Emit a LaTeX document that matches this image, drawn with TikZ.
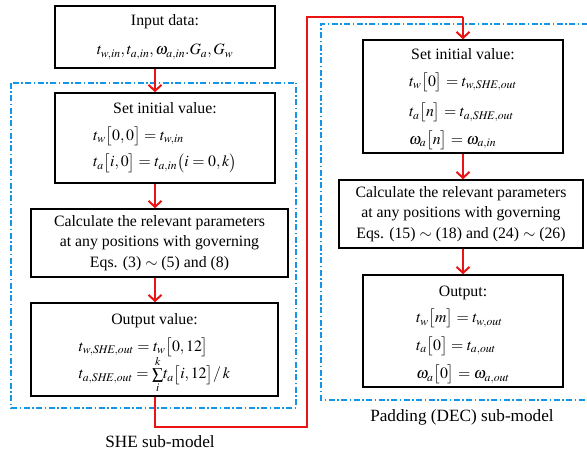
\documentclass[tikz,border=0pt]{standalone}
\usepackage{mathptmx}
\usepackage{fontspec}
\setmainfont{Liberation Serif}
\usetikzlibrary{arrows.meta}

\definecolor{grpblue}{RGB}{20,150,230}
\definecolor{flowred}{RGB}{235,20,20}

\tikzset{
  box/.style={draw=black, line width=1.5pt, inner sep=0pt, align=center},
  arr/.style={draw=flowred, line width=2.2pt,
    -{Straight Barb[length=6pt,width=13pt,line width=2pt]}},
  link/.style={draw=flowred, line width=2.2pt},
  group/.style={draw=grpblue, line width=1.3pt,
    dash pattern=on 6pt off 2.5pt on 1.5pt off 2.5pt},
  lbl/.style={inner sep=0pt, font=\rmfamily\fontsize{17.2}{20.5}\selectfont},
  every node/.style={font=\rmfamily\fontsize{15.8}{20.5}\selectfont}
}

% left-aligned block of formulas whose first row sits on the current line
\newcommand{\mlines}[1]{\begin{tabular}[t]{@{}l@{}}#1\end{tabular}}
% invisible strut that pushes a box's first line down
\newcommand{\topgap}[1]{\rule{0pt}{#1}}

\begin{document}
\begin{tikzpicture}[x=1pt, y=-1pt]
  \useasboundingbox (0,0) rectangle (587,454);
  \clip (0,0) rectangle (587,454);

  % sub-model frames
  \draw[group] (11,83) rectangle (296,408);
  \draw[group] (600,24) -- (321,24) -- (321,400) -- (600,400);

  % SHE sub-model
  \node[box, minimum width=220pt, minimum height=62pt] (input) at (165,37)
    {Input data:\\[9pt]
     $t_{w,in}, t_{a,in}, \omega_{a,in}.G_a, G_w$};
  \node[box, minimum width=220pt, minimum height=90pt] (setL) at (165,138)
    {Set initial value:\\[6pt]
     \mlines{$t_w\bigl[0,0\bigr]=t_{w,in}$\\[6pt]
             $t_a\bigl[i,0\bigr]=t_{a,in}\bigl(i=0,k\bigr)$}};
  \node[box, minimum width=257pt, minimum height=68pt] (calcL) at (159.5,243)
    {Calculate the relevant parameters\\
     at any positions with governing\\
     Eqs. (3) $\sim$ (5) and (8)};
  \node[box, minimum width=247pt, minimum height=93pt] (outL) at (154.5,349.5)
    {\topgap{11pt}Output value:\\[6pt]
     \mlines{$t_{w,\mathit{SHE},out}=t_w\bigl[0,12\bigr]$\\[7pt]
             $t_{a,\mathit{SHE},out}=\smash{\sum\limits_{i}^{k}} t_a\bigl[i,12\bigr]/\,k$}};
  \node[lbl] (sheLabel) at (160,442) {SHE sub-model};

  % Padding (DEC) sub-model
  \node[box, minimum width=200pt, minimum height=113pt] (setR) at (463,96.5)
    {\topgap{17pt}Set initial value:\\[6pt]
     \mlines{$t_w\bigl[0\bigr]=t_{w,\mathit{SHE},out}$\\[10pt]
             $t_a\bigl[n\bigr]=t_{a,\mathit{SHE},out}$\\[7pt]
             $\omega_a\bigl[n\bigr]=\omega_{a,in}$}};
  \node[box, minimum width=244pt, minimum height=68pt] (calcR) at (461,214)
    {Calculate the relevant parameters\\
     at any positions with governing\\
     Eqs. (15) $\sim$ (18) and (24) $\sim$ (26)};
  \node[box, minimum width=200pt, minimum height=112pt] (outR) at (463,331)
    {\topgap{19pt}Output:\\[6pt]
     \mlines{$t_w\bigl[m\bigr]=t_{w,out}$\\[7pt]
             $t_a\bigl[0\bigr]=t_{a,out}$\\[8pt]
             $\omega_a\bigl[0\bigr]=\omega_{a,out}$}};
  \node[lbl] (decLabel) at (462,417) {Padding (DEC) sub-model};

  % flow connectors
  \coordinate (colL) at (155,0);
  \coordinate (colR) at (463,0);
  \draw[arr] (input.south -| colL) -- (setL.north -| colL);
  \draw[arr] (setL.south -| colL) -- (calcL.north -| colL);
  \draw[arr] (calcL.south -| colL) -- (outL.north -| colL);

  \coordinate (turnA) at (155,427);
  \coordinate (turnB) at (307,427);
  \coordinate (turnC) at (307,17);
  \coordinate (turnD) at (463,17);
  \draw[link] (outL.south -| colL) -- (turnA) -- (turnB) -- (turnC) -- (turnD);
  \draw[arr] (turnD) -- (setR.north -| colR);

  \draw[arr] (setR.south -| colR) -- (calcR.north -| colR);
  \draw[arr] (calcR.south -| colR) -- (outR.north -| colR);
\end{tikzpicture}
\end{document}
